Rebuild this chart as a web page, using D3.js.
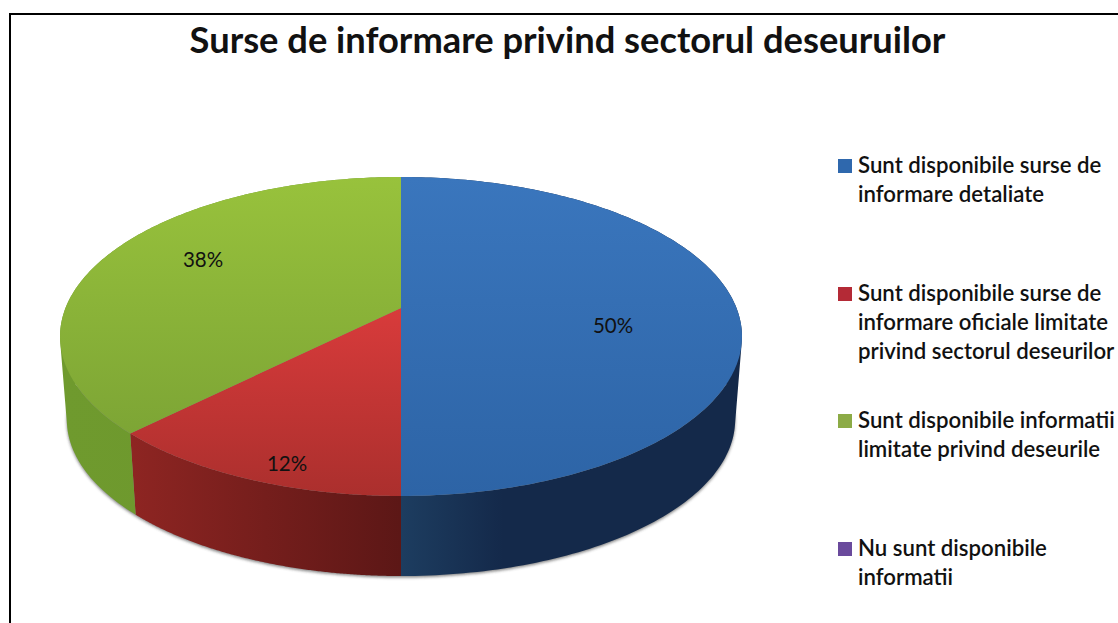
<!DOCTYPE html>
<html><head><meta charset="utf-8">
<style>html,body{margin:0;padding:0;background:#fff}svg{display:block}text{font-family:Lato,"Open Sans",sans-serif;fill:#111}</style>
<script src="https://cdn.jsdelivr.net/npm/d3@7"></script></head>
<body><svg id="c" width="1118" height="623"></svg>
<script>
const chartTitle = "Surse de informare privind sectorul deseuruilor";
const categories = [
  "Sunt disponibile surse de|informare detaliate",
  "Sunt disponibile surse de|informare oficiale limitate|privind sectorul deseurilor",
  "Sunt disponibile informatii|limitate privind deseurile",
  "Nu sunt disponibile|informatii"
];
const values = [50, 12.45, 37.55, 0];
const topColors = [["#3a76bd","#2d64a6"],["#d83b3b","#ab2f2d"],["#98c23c","#7da535"],["#7a5aa6","#5f4487"]];
const sideColors = [["#1d3d60","#14294a"],["#8e2522","#5c1716"],["#6f9a2e","#6c962c"],["#4a3768","#3a2a52"]];
const legendColors = ["#2f68ad","#b42a36","#8cab46","#6a4a9c"];

const svg = d3.select("#c");
const W = 1118, H = 623;
const defs = svg.append("defs");
defs.append("filter").attr("id","sh").attr("x","-5%").attr("y","-5%").attr("width","110%").attr("height","110%")
  .append("feGaussianBlur").attr("stdDeviation",1.6);

svg.append("path").attr("d",`M10 ${H} V14 H${W}`).attr("fill","none").attr("stroke","#000").attr("stroke-width",2);

svg.append("text").text(chartTitle).attr("x",567.5).attr("y",53).attr("text-anchor","middle")
  .attr("font-size",36.3).attr("font-weight",700).attr("fill","#111");

// perspective projection of the pie disc
const p = 0.1786, A = 335.5, S = 154.4, cx = 401, cyTop = 308, cyBot = 391.8, kBot = 0.98;
const proj = (phi, r, level) => {
  // phi is measured clockwise from the back (top) of the pie
  const u = r * Math.sin(phi), v = -r * Math.cos(phi), w = 1 - p * v;
  const X = A * u / w, Y = S * v / w;
  return level === 0 ? [cx + X, cyTop + Y] : [cx + kBot * X, cyBot + kBot * Y];
};
const line = d3.line();
const STEPS = 180;
const angleAt = (s, i) => s.startAngle + (s.endAngle - s.startAngle) * i / STEPS;
const arcPts = (s, level) => d3.range(0, STEPS + 1).map(i => proj(angleAt(s, i), 1, level));

const pie = d3.pie().sort(null).startAngle(0).endAngle(2 * Math.PI);
const slices = pie(values);

// soft shadow
const ring = d3.range(0, 361).map(i => proj(i * Math.PI / 180, 1, 1));
svg.append("path").attr("d", line(ring) + "Z").attr("transform","translate(0,1.5)")
  .attr("opacity",0.6).attr("filter","url(#sh)").attr("fill","#333");

slices.forEach((s, i) => {
  const pts = arcPts(s, 0);
  const xs = d3.extent(pts, d => d[0]);
  const gs = defs.append("linearGradient").attr("id","side"+i).attr("gradientUnits","userSpaceOnUse")
    .attr("y1",0).attr("y2",0).attr("x1",xs[0]).attr("x2",xs[1]);
  gs.append("stop").attr("offset",0).attr("stop-color",sideColors[i][0]);
  if (i === 0) gs.append("stop").attr("offset",0.3).attr("stop-color",sideColors[i][1]);
  gs.append("stop").attr("offset",1).attr("stop-color",sideColors[i][1]);
  const ys = d3.extent(pts.concat([proj(0,0,0)]), d => d[1]);
  const gt = defs.append("linearGradient").attr("id","top"+i)
    .attr("gradientUnits","userSpaceOnUse").attr("x1",0).attr("x2",0).attr("y1",ys[0]).attr("y2",ys[1]);
  gt.append("stop").attr("offset",0).attr("stop-color",topColors[i][0]);
  gt.append("stop").attr("offset",1).attr("stop-color",topColors[i][1]);
});

// walls: a single path per slice of same-orientation strips, so no seams show
slices.filter(s => s.value > 0).forEach(s => {
  const d = d3.range(0, STEPS).map(i => {
    const a = angleAt(s, i), b = angleAt(s, i + 1);
    const q = [proj(a,1,0),proj(b,1,0),proj(b,1,1),proj(a,1,1)];
    if (d3.polygonArea(q) < 0) q.reverse();
    return line(q) + "Z";
  }).join("");
  svg.append("path").attr("d", d).attr("fill",`url(#side${s.index})`);
});
// tops
slices.filter(s => s.value > 0).forEach(s => {
  const pts = [proj(0,0,0)].concat(arcPts(s, 0));
  svg.append("path").attr("d", line(pts) + "Z").attr("fill", `url(#top${s.index})`);
});

// value labels
const fmt = d3.format(".0f");
const labelPos = [[613,333],[287,471],[203,267]];
slices.filter(s => s.value > 0).forEach(s => {
  svg.append("text").text(fmt(s.value) + "%").attr("x", labelPos[s.index][0]).attr("y", labelPos[s.index][1])
    .attr("text-anchor","middle").attr("font-size",20.5);
});

// legend
const legendY = [166, 294, 421, 549];
categories.forEach((c, i) => {
  svg.append("rect").attr("x",838).attr("y",legendY[i]-7).attr("width",14).attr("height",14).attr("fill",legendColors[i]);
  c.split("|").forEach((t, j) => {
    svg.append("text").text(t).attr("x",858).attr("y",legendY[i] + 6.5 + j * 29)
      .attr("font-size",22.2).attr("font-weight",600);
  });
});
</script></body></html>
